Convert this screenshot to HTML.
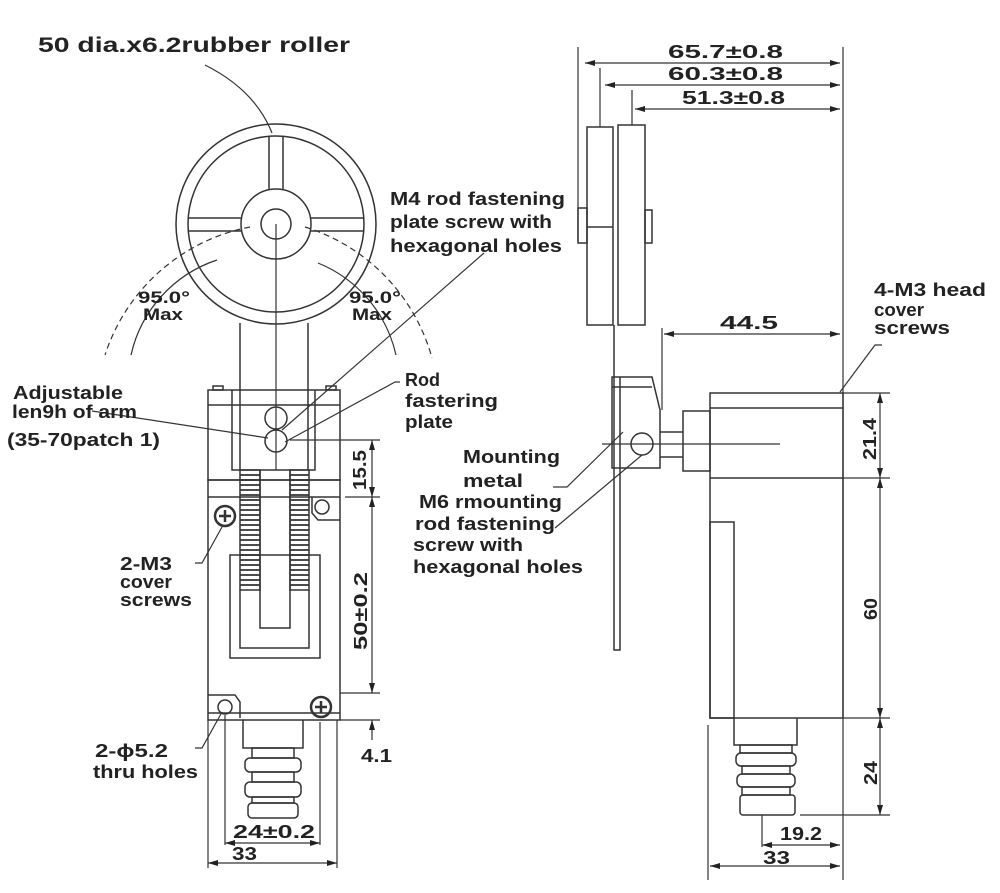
<!DOCTYPE html>
<html><head><meta charset="utf-8"><style>
html,body{margin:0;padding:0;background:#fff;}
svg{display:block}
text{font-family:"Liberation Sans",Arial,sans-serif;font-weight:bold;fill:#222;}
</style></head><body>
<svg width="1000" height="893" viewBox="0 0 1000 893" xmlns="http://www.w3.org/2000/svg">
<defs>
<marker id="a" viewBox="0 0 10 6" refX="10" refY="3" markerWidth="10" markerHeight="6" orient="auto-start-reverse" markerUnits="userSpaceOnUse"><path d="M0,0 L10,3 L0,6 z" fill="#222"/></marker>
</defs>
<g fill="none" stroke="#333" stroke-width="1.5">
<circle cx="276" cy="224" r="100"/>
<circle cx="276" cy="224" r="88"/>
<circle cx="276" cy="224" r="35"/>
<circle cx="276" cy="224" r="15"/>
<path d="M188 218 H241 M188 231 H241 M311 218 H364 M311 231 H364 M269 136 V189 M283 136 V189"/>
<path d="M276 224 V470" stroke-width="1.2"/>
<path d="M205 65 Q255 90 272 133" stroke-width="1.2"/>
<path d="M250 227 A 190 190 0 0 0 105 355" stroke-dasharray="6,4" stroke-width="1.2"/>
<path d="M305 227 A 190 190 0 0 1 432 358" stroke-dasharray="6,4" stroke-width="1.2"/>
<path d="M217 260 A 130 130 0 0 0 131 355" stroke-width="1.2"/>
<path d="M318 263 A 130 130 0 0 1 396 355" stroke-width="1.2"/>
<path d="M240 323 V470 M308 323 V470"/>
<rect x="208" y="390" width="132" height="90"/>
<path d="M208 405 H340"/>
<rect x="213" y="386" width="10" height="4"/>
<rect x="326" y="386" width="10" height="4"/>
<path d="M232 390 V470 H315 V390"/>
<circle cx="276" cy="418" r="11"/>
<circle cx="276" cy="441" r="11"/>
<rect x="208" y="480" width="132" height="240"/>
<path d="M208 497 H340 M208 713 H340"/>
<rect x="240" y="470" width="20" height="120"/>
<rect x="290" y="470" width="19" height="120"/>
<path d="M240 475 H260 M240 480 H260 M240 485 H260 M240 490 H260 M240 495 H260 M240 500 H260 M240 505 H260 M240 510 H260 M240 515 H260 M240 520 H260 M240 525 H260 M240 530 H260 M240 535 H260 M240 540 H260 M240 545 H260 M240 550 H260 M240 555 H260 M240 560 H260 M240 565 H260 M240 570 H260 M240 575 H260 M240 580 H260 M240 585 H260" stroke-width="1.8"/>
<path d="M290 475 H309 M290 480 H309 M290 485 H309 M290 490 H309 M290 495 H309 M290 500 H309 M290 505 H309 M290 510 H309 M290 515 H309 M290 520 H309 M290 525 H309 M290 530 H309 M290 535 H309 M290 540 H309 M290 545 H309 M290 550 H309 M290 555 H309 M290 560 H309 M290 565 H309 M290 570 H309 M290 575 H309 M290 580 H309 M290 585 H309" stroke-width="1.8"/>
<path d="M260 470 V628 H290 V470"/>
<path d="M240 590 V648 H309 V590"/>
<rect x="230" y="555" width="90" height="103"/>
<circle cx="225" cy="516" r="10" stroke-width="2.5"/><path d="M219 516 H231 M225 510 V522" stroke-width="2.5"/>
<circle cx="321" cy="707" r="10" stroke-width="2.5"/><path d="M315 707 H327 M321 701 V713" stroke-width="2.5"/>
<path d="M312 497 V513 L318 520 H340"/>
<circle cx="322" cy="507" r="7"/>
<path d="M208 695 H235 L240 702 V718"/>
<circle cx="225" cy="707" r="7"/>
<path d="M92 411 Q150 420 268 438" stroke-width="1.2"/>
<path d="M400 382 H395 L285 442" stroke-width="1.2"/>
<path d="M484 253 L282 430" stroke-width="1.2"/>
<path d="M195 563 H202 L222 527" stroke-width="1.2"/>
<path d="M195 748 H202 L222 712" stroke-width="1.2"/>
<path d="M243 720 V748 H303 V720"/>
<rect x="252" y="748" width="42" height="10"/>
<rect x="245" y="758" width="56" height="14" rx="5"/>
<rect x="252" y="772" width="42" height="10"/>
<rect x="245" y="782" width="56" height="15" rx="5"/>
<rect x="252" y="797" width="42" height="6"/>
<rect x="248" y="803" width="50" height="15" rx="4"/>
<path d="M290 440 H380 M345 497 H380 M340 693 H380 M340 720 H380" stroke-width="1.2"/>
<path d="M372 440 V497" marker-start="url(#a)" marker-end="url(#a)" stroke-width="1.2"/>
<path d="M372 497 V693" marker-start="url(#a)" marker-end="url(#a)" stroke-width="1.2"/>
<path d="M372 740 V720" marker-end="url(#a)" stroke-width="1.2"/>
<path d="M208 720 V868 M337 720 V868 M225 715 V845 M320 722 V845" stroke-width="1.2"/>
<path d="M225 843 H320" marker-start="url(#a)" marker-end="url(#a)" stroke-width="1.2"/>
<path d="M208 863 H337" marker-start="url(#a)" marker-end="url(#a)" stroke-width="1.2"/>

<path d="M578 47 V242 M600 68 V127 M632 90 V125 M843 47 V880" stroke-width="1.2"/>
<path d="M585 63 H840" marker-start="url(#a)" marker-end="url(#a)" stroke-width="1.2"/>
<path d="M605 85 H840" marker-start="url(#a)" marker-end="url(#a)" stroke-width="1.2"/>
<path d="M635 109 H840" marker-start="url(#a)" marker-end="url(#a)" stroke-width="1.2"/>
<rect x="587" y="127" width="26" height="198"/>
<rect x="618" y="125" width="27" height="200"/>
<path d="M587 227 H613"/>
<rect x="578" y="208" width="9" height="35"/>
<rect x="645" y="210" width="7" height="33"/>
<path d="M614 325 V650 H620 V377"/>
<path d="M662 328 V410" stroke-width="1.2"/>
<path d="M664 334 H840" marker-start="url(#a)" marker-end="url(#a)" stroke-width="1.2"/>
<path d="M612 377 H652 L660 410 V468 H612 Z"/>
<path d="M612 387 H652"/>
<circle cx="642" cy="444" r="11"/>
<path d="M660 432 H683 M660 457 H683"/>
<rect x="683" y="411" width="27" height="60"/>
<path d="M602 444 H780" stroke-width="1.2"/>
<rect x="710" y="393" width="133" height="325"/>
<path d="M710 408 H843 M710 478 H843"/>
<rect x="710" y="522" width="24" height="196"/>
<path d="M734 718 V745 H797 V718"/>
<rect x="740" y="745" width="52" height="8"/>
<rect x="736" y="753" width="60" height="13" rx="5"/>
<rect x="742" y="766" width="48" height="8"/>
<rect x="737" y="774" width="58" height="13" rx="5"/>
<rect x="742" y="787" width="48" height="8"/>
<rect x="740" y="795" width="55" height="20" rx="3"/>
<path d="M843 393 H890 M843 478 H890 M843 718 H890 M800 815 H890" stroke-width="1.2"/>
<path d="M880 393 V478" marker-start="url(#a)" marker-end="url(#a)" stroke-width="1.2"/>
<path d="M880 478 V718" marker-start="url(#a)" marker-end="url(#a)" stroke-width="1.2"/>
<path d="M880 718 V815" marker-start="url(#a)" marker-end="url(#a)" stroke-width="1.2"/>
<path d="M762 815 V847 M708 725 V880" stroke-width="1.2"/>
<path d="M762 845 H840" marker-start="url(#a)" marker-end="url(#a)" stroke-width="1.2"/>
<path d="M710 866 H840" marker-start="url(#a)" marker-end="url(#a)" stroke-width="1.2"/>
<path d="M840 392 L875 345 H882" stroke-width="1.2"/>
<path d="M553 487 H567 L623 432" stroke-width="1.2"/>
<path d="M555 528 L642 455" stroke-width="1.2"/>
</g>
<g font-size="18">
<text x="38" y="52" font-size="21" textLength="312" lengthAdjust="spacingAndGlyphs">50 dia.x6.2rubber roller</text>
<text x="390" y="205" textLength="175" lengthAdjust="spacingAndGlyphs">M4 rod fastening</text>
<text x="390" y="228" textLength="162" lengthAdjust="spacingAndGlyphs">plate screw with</text>
<text x="390" y="252" textLength="172" lengthAdjust="spacingAndGlyphs">hexagonal holes</text>
<text x="138" y="303" font-size="17" textLength="52" lengthAdjust="spacingAndGlyphs">95.0°</text>
<text x="143" y="320" font-size="17" textLength="40" lengthAdjust="spacingAndGlyphs">Max</text>
<text x="349" y="303" font-size="17" textLength="52" lengthAdjust="spacingAndGlyphs">95.0°</text>
<text x="352" y="320" font-size="17" textLength="40" lengthAdjust="spacingAndGlyphs">Max</text>
<text x="405" y="386">Rod</text>
<text x="405" y="407" textLength="93" lengthAdjust="spacingAndGlyphs">fastering</text>
<text x="405" y="428" textLength="48" lengthAdjust="spacingAndGlyphs">plate</text>
<text x="13" y="399" textLength="110" lengthAdjust="spacingAndGlyphs">Adjustable</text>
<text x="12" y="418" textLength="125" lengthAdjust="spacingAndGlyphs">len9h of arm</text>
<text x="7" y="446" textLength="153" lengthAdjust="spacingAndGlyphs">(35-70patch 1)</text>
<text x="463" y="463" textLength="97" lengthAdjust="spacingAndGlyphs">Mounting</text>
<text x="463" y="487" textLength="60" lengthAdjust="spacingAndGlyphs">metal</text>
<text x="419" y="508" textLength="143" lengthAdjust="spacingAndGlyphs">M6 rmounting</text>
<text x="415" y="530" textLength="140" lengthAdjust="spacingAndGlyphs">rod fastening</text>
<text x="413" y="551" textLength="110" lengthAdjust="spacingAndGlyphs">screw with</text>
<text x="413" y="573" textLength="170" lengthAdjust="spacingAndGlyphs">hexagonal holes</text>
<text x="120" y="570" textLength="52" lengthAdjust="spacingAndGlyphs">2-M3</text>
<text x="120" y="588" textLength="52" lengthAdjust="spacingAndGlyphs">cover</text>
<text x="120" y="606" textLength="72" lengthAdjust="spacingAndGlyphs">screws</text>
<text x="95" y="757" textLength="73" lengthAdjust="spacingAndGlyphs">2-ϕ5.2</text>
<text x="93" y="778" textLength="105" lengthAdjust="spacingAndGlyphs">thru holes</text>
<text x="874" y="296" textLength="112" lengthAdjust="spacingAndGlyphs">4-M3 head</text>
<text x="874" y="316" textLength="50" lengthAdjust="spacingAndGlyphs">cover</text>
<text x="874" y="334" textLength="76" lengthAdjust="spacingAndGlyphs">screws</text>
<text x="668" y="58" textLength="115" lengthAdjust="spacingAndGlyphs">65.7±0.8</text>
<text x="668" y="80" textLength="115" lengthAdjust="spacingAndGlyphs">60.3±0.8</text>
<text x="682" y="104" textLength="103" lengthAdjust="spacingAndGlyphs">51.3±0.8</text>
<text x="720" y="329" textLength="58" lengthAdjust="spacingAndGlyphs">44.5</text>
<text x="233" y="838" textLength="82" lengthAdjust="spacingAndGlyphs">24±0.2</text>
<text x="232" y="860" textLength="25" lengthAdjust="spacingAndGlyphs">33</text>
<text x="361" y="762" textLength="31" lengthAdjust="spacingAndGlyphs">4.1</text>
<text x="780" y="840" textLength="42" lengthAdjust="spacingAndGlyphs">19.2</text>
<text x="763" y="864" textLength="27" lengthAdjust="spacingAndGlyphs">33</text>
<text transform="translate(366,490) rotate(-90)" textLength="40" lengthAdjust="spacingAndGlyphs">15.5</text>
<text transform="translate(367,650) rotate(-90)" textLength="78" lengthAdjust="spacingAndGlyphs">50±0.2</text>
<text transform="translate(876,460) rotate(-90)" textLength="42" lengthAdjust="spacingAndGlyphs">21.4</text>
<text transform="translate(877,620) rotate(-90)" textLength="22" lengthAdjust="spacingAndGlyphs">60</text>
<text transform="translate(877,785) rotate(-90)" textLength="24" lengthAdjust="spacingAndGlyphs">24</text>
</g>
</svg>
</body></html>
